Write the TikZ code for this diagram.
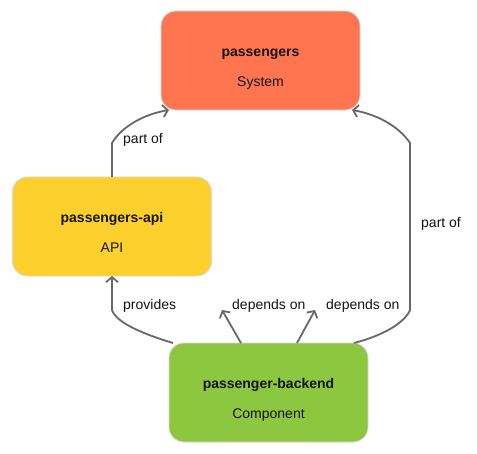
\documentclass[tikz,border=0pt]{standalone}
\usepackage{fontspec}
\setmainfont{Liberation Sans}
\usetikzlibrary{arrows.meta}
\definecolor{sysc}{RGB}{255,117,79}
\definecolor{apic}{RGB}{253,208,46}
\definecolor{compc}{RGB}{141,198,63}
\definecolor{linec}{RGB}{104,104,104}
\definecolor{edgec}{RGB}{215,215,215}
\begin{document}
\begin{tikzpicture}[x=1pt,y=-1pt,
  boxst/.style={rectangle, rounded corners=15pt, minimum width=199pt, minimum height=99pt, inner sep=0pt, outer sep=0pt, draw=edgec, line width=0.8pt},
  titletxt/.style={font=\fontsize{14}{16}\selectfont\bfseries, text=black!92, inner sep=0pt, anchor=base},
  subtxt/.style={font=\fontsize{14}{16}\selectfont, text=black!92, inner sep=0pt, anchor=base},
  lbl/.style={font=\fontsize{14}{16}\selectfont, text=black!92, inner sep=0pt, anchor=base west},
  conn/.style={draw=linec, line width=1.8pt, -{Straight Barb[length=5pt,width=12pt,line width=1.8pt]}}
]
\useasboundingbox (0,0) rectangle (477,453);
\fill[white] (0,0) rectangle (477,453);

\node[boxst, fill=sysc] (sys) at (260.5,60.5) {};
\node[titletxt] (sysT) at ([yshift=4.5pt]sys.center) {passengers};
\node[subtxt] (sysS) at ([yshift=-25.5pt]sys.center) {System};

\node[boxst, fill=apic] (api) at (112,226.5) {};
\node[titletxt] (apiT) at ([yshift=4.5pt]api.center) {passengers-api};
\node[subtxt] (apiS) at ([yshift=-25.5pt]api.center) {API};

\node[boxst, fill=compc] (back) at (268.5,392.5) {};
\node[titletxt] (backT) at ([yshift=4.5pt]back.center) {passenger-backend};
\node[subtxt] (backS) at ([yshift=-25.5pt]back.center) {Component};

\coordinate (d1) at (222,310);
\coordinate (d2) at (315,310);

% api -> system : part of
\draw[conn] (api.north) -- (112,143) .. controls (122,126) and (145,114) .. ([xshift=8pt]sys.south west);
% backend -> api : provides
\draw[conn] ([xshift=4pt]back.north west) .. controls (140,333) and (116,322) .. (112,310) -- (api.south);
% backend depends on
\draw[conn] ([xshift=72pt]back.north west) -- (d1);
\draw[conn] ([xshift=128pt]back.north west) -- (d2);
% backend -> system : part of
\draw[conn] ([xshift=-14pt]back.north east) .. controls (385,335) and (405,322) .. (410,310) -- (410,143) .. controls (398,125) and (375,114) .. ([xshift=-8pt]sys.south east);

\node[lbl] (l1) at (123,143) {part of};
\node[lbl] (l2) at (123,309) {provides};
\node[lbl] (l3) at (232,309) {depends on};
\node[lbl] (l4) at (326,309) {depends on};
\node[lbl] (l5) at (421,227) {part of};
\end{tikzpicture}
\end{document}
